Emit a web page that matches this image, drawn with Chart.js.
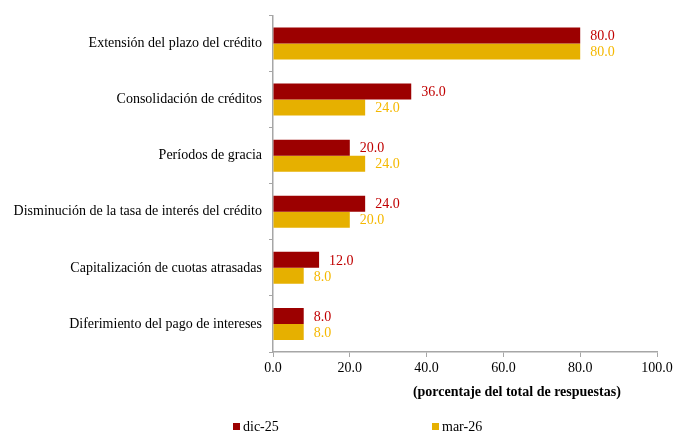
<!DOCTYPE html>
<html>
<head>
<meta charset="utf-8">
<script src="https://cdn.jsdelivr.net/npm/chart.js@4/dist/chart.umd.min.js"></script>
<style>
  html, body { margin: 0; padding: 0; background: #fff; }
  #wrap { width: 678px; height: 432px; position: relative; }
</style>
</head>
<body>
<div id="wrap"><canvas id="cMedidas"></canvas></div>
<script>
// ── Datos ────────────────────────────────────────────────────
const CATEGORIAS = [
  'Extensión del plazo del crédito',
  'Consolidación de créditos',
  'Períodos de gracia',
  'Disminución de la tasa de interés del crédito',
  'Capitalización de cuotas atrasadas',
  'Diferimiento del pago de intereses'
];
const SERIES = ['dic-25', 'mar-26'];
const DIC25 = [80, 36, 20, 24, 12, 8];
const MAR26 = [80, 24, 24, 20, 8, 8];
const X_TICKS = [0, 20, 40, 60, 80, 100];
const TITULO_X = '(porcentaje del total de respuestas)';

// colores: barra / etiqueta
const COL_BAR = ['#9c0000', '#e6b000'];
const COL_LBL = ['#c00000', '#f5b800'];
const FONT = "'Liberation Serif', 'Times New Roman', serif";
const FS = 14;

// ── Etiquetas de valor al final de cada barra ────────────────
const valueLabels = {
  id: 'valueLabels',
  afterDatasetsDraw(chart) {
    const ctx = chart.ctx;
    ctx.save();
    ctx.font = `${FS}px ${FONT}`;
    ctx.textBaseline = 'middle';
    ctx.textAlign = 'left';
    chart.data.datasets.forEach((ds, i) => {
      const meta = chart.getDatasetMeta(i);
      ctx.fillStyle = COL_LBL[i];
      meta.data.forEach((bar, j) => {
        ctx.fillText(ds.data[j].toFixed(1), bar.x + 10, bar.y + 1);
      });
    });
    ctx.restore();
  }
};

// ── Título del eje X (desplazado a la derecha) y leyenda ─────
const extras = {
  id: 'extras',
  afterDraw(chart) {
    const { ctx, chartArea: a } = chart;
    ctx.save();
    ctx.fillStyle = '#000';
    ctx.textBaseline = 'middle';
    ctx.textAlign = 'center';
    ctx.font = `bold ${FS}px ${FONT}`;
    ctx.fillText(TITULO_X, a.left + (a.right - a.left) * 0.635, a.bottom + 40);

    // leyenda
    ctx.font = `${FS}px ${FONT}`;
    ctx.textAlign = 'left';
    const xs = [233, 432];
    const y = a.bottom + 75;
    SERIES.forEach((s, i) => {
      ctx.fillStyle = COL_BAR[i];
      ctx.fillRect(xs[i], y - 4, 7, 7);
      ctx.fillStyle = '#000';
      ctx.fillText(s, xs[i] + 10, y);
    });
    ctx.restore();
  }
};

new Chart(document.getElementById('cMedidas').getContext('2d'), {
  type: 'bar',
  data: {
    labels: CATEGORIAS,
    datasets: SERIES.map((s, i) => ({
      label: s,
      data: i === 0 ? DIC25 : MAR26,
      backgroundColor: COL_BAR[i],
      borderWidth: 0,
      categoryPercentage: 0.57,
      barPercentage: 1
    }))
  },
  options: {
    indexAxis: 'y',
    responsive: true, maintainAspectRatio: false, animation: false,
    layout: { padding: { top: 13, right: 21, bottom: 54, left: 0 } },
    plugins: { legend: { display: false }, tooltip: { enabled: false } },
    scales: {
      x: {
        min: 0, max: 100,
        afterBuildTicks: s => { s.ticks = X_TICKS.map(v => ({ value: v })); },
        afterFit: s => { s.height = 26; },
        grid: { drawOnChartArea: false, drawTicks: true, tickLength: 5, color: '#a6a6a6' },
        border: { color: '#a6a6a6', width: 1.5 },
        ticks: { color: '#000', padding: 3, font: { family: FONT, size: FS }, callback: v => v.toFixed(1), maxRotation: 0 }
      },
      y: {
        afterFit: s => { s.width = 273; },
        grid: { offset: true, drawOnChartArea: false, drawTicks: true, tickLength: 4, color: '#a6a6a6' },
        border: { color: '#a6a6a6', width: 1.5 },
        ticks: { color: '#000', padding: 7, font: { family: FONT, size: FS } }
      }
    }
  },
  plugins: [valueLabels, extras]
});
</script>
</body>
</html>
